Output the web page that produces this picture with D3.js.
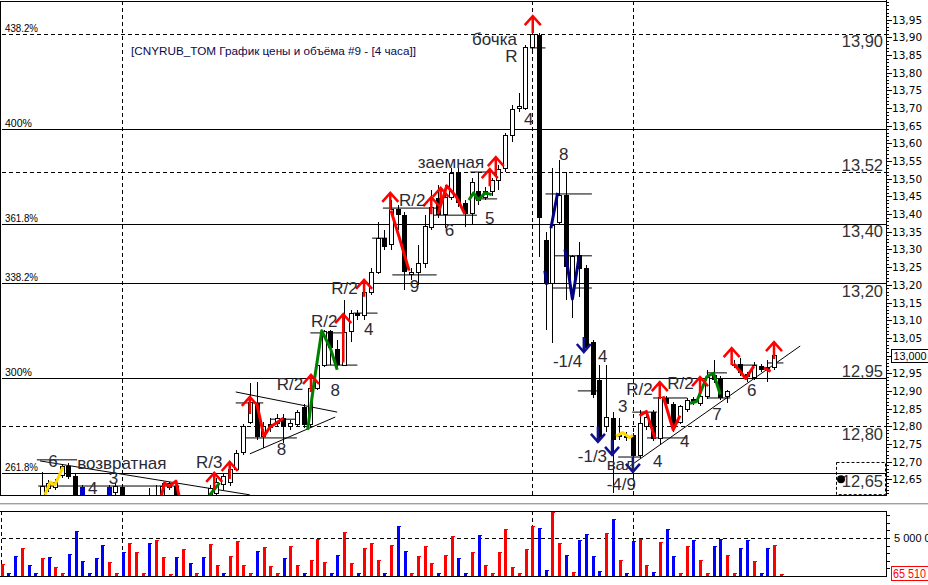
<!DOCTYPE html>
<html><head><meta charset="utf-8">
<script src="https://cdn.jsdelivr.net/npm/d3@7"></script>
<style>body{margin:0;background:#fff;}svg{display:block;}</style>
</head><body>
<svg id="c" width="928" height="585"></svg>
<script>
// ---------- DATA ----------
const opens  = [12.57,12.56,12.57,12.58,12.57,12.58,12.59,12.600,12.623,12.628,12.662,12.688,12.659,12.628,12.595,12.58,12.57,12.628,12.614,12.628,12.597,12.58,12.59,12.598,12.60,12.600,12.628,12.631,12.597,12.585,12.59,12.595,12.603,12.611,12.634,12.642,12.679,12.727,12.812,12.866,12.770,12.806,12.809,12.823,12.798,12.806,12.855,12.804,12.908,12.973,13.069,13.019,12.973,13.067,13.120,13.112,13.177,13.236,13.332,13.313,13.414,13.398,13.228,13.236,13.259,13.361,13.446,13.400,13.448,13.519,13.431,13.403,13.465,13.448,13.463,13.494,13.528,13.621,13.700,13.700,13.870,13.907,13.327,13.205,13.375,13.454,13.180,13.284,13.248,13.038,12.931,12.798,12.823,12.770,12.770,12.775,12.716,12.798,12.840,12.764,12.880,12.863,12.812,12.846,12.877,12.863,12.883,12.945,12.937,12.883,12.973,12.976,12.948,12.939,12.971,12.962,12.965];
const highs  = [12.58,12.58,12.59,12.59,12.59,12.595,12.60,12.671,12.648,12.651,12.693,12.696,12.665,12.634,12.60,12.595,12.59,12.634,12.640,12.634,12.60,12.60,12.60,12.625,12.634,12.640,12.642,12.640,12.60,12.60,12.60,12.605,12.634,12.654,12.665,12.688,12.733,12.806,12.922,12.925,12.812,12.823,12.835,12.835,12.818,12.846,12.863,12.914,12.982,13.072,13.072,13.044,13.157,13.129,13.129,13.185,13.248,13.378,13.355,13.440,13.426,13.406,13.248,13.313,13.398,13.468,13.482,13.482,13.530,13.530,13.440,13.502,13.519,13.477,13.502,13.539,13.629,13.709,13.743,13.878,13.921,13.912,13.349,13.530,13.553,13.519,13.284,13.321,13.256,13.044,12.973,12.973,12.840,12.823,12.784,12.781,12.846,12.838,12.846,12.925,12.886,12.869,12.860,12.880,12.883,12.888,12.959,12.987,12.942,12.903,12.987,12.993,12.954,12.982,12.976,12.987,13.004];
const lows   = [12.55,12.55,12.56,12.56,12.56,12.57,12.57,12.592,12.614,12.620,12.654,12.651,12.563,12.592,12.57,12.56,12.56,12.600,12.606,12.592,12.57,12.57,12.575,12.59,12.59,12.59,12.62,12.59,12.575,12.57,12.575,12.58,12.59,12.603,12.620,12.631,12.674,12.719,12.806,12.761,12.739,12.784,12.801,12.753,12.790,12.798,12.795,12.795,12.903,12.968,12.973,12.968,12.971,13.038,13.101,13.101,13.171,13.231,13.299,13.299,13.355,13.185,13.214,13.200,13.248,13.355,13.389,13.361,13.440,13.420,13.364,13.369,13.426,13.440,13.451,13.468,13.519,13.604,13.689,13.694,13.858,13.279,13.072,13.036,13.369,13.157,13.106,13.166,13.016,12.880,12.761,12.784,12.611,12.761,12.758,12.657,12.710,12.790,12.758,12.747,12.852,12.784,12.806,12.840,12.860,12.857,12.877,12.922,12.874,12.866,12.965,12.942,12.925,12.931,12.954,12.925,12.959];
const closes = [12.56,12.57,12.58,12.57,12.58,12.59,12.595,12.631,12.637,12.642,12.685,12.657,12.577,12.600,12.58,12.57,12.585,12.606,12.631,12.597,12.58,12.59,12.595,12.60,12.603,12.631,12.637,12.597,12.585,12.59,12.595,12.60,12.625,12.640,12.657,12.679,12.724,12.798,12.866,12.770,12.798,12.795,12.823,12.798,12.809,12.838,12.804,12.908,12.971,13.069,13.021,12.973,13.064,13.118,13.112,13.177,13.236,13.330,13.307,13.414,13.398,13.236,13.236,13.259,13.364,13.420,13.398,13.446,13.516,13.431,13.400,13.488,13.437,13.465,13.494,13.525,13.621,13.697,13.703,13.870,13.907,13.389,13.205,13.369,13.454,13.250,13.279,13.245,13.021,12.888,12.770,12.826,12.761,12.773,12.771,12.716,12.809,12.826,12.764,12.880,12.863,12.798,12.855,12.872,12.866,12.883,12.937,12.931,12.880,12.897,12.971,12.951,12.939,12.971,12.959,12.965,13.000];
const blueCandles = [13,17];

const volumes = [1623,351,2588,3640,1404,351,2368,2500,1140,351,
2851,5877,1930,351,2368,4079,1798,351,3202,4298,
3114,351,4298,4693,2500,219,2500,3553,1667,351,
2500,4167,1447,351,2632,4605,1447,351,3246,3816,
1316,351,2368,3947,1404,351,2105,4868,1798,351,
2763,5789,1667,351,3684,4298,2105,351,4035,6579,
3246,351,2632,3947,1667,351,2763,5263,2325,
351,3158,5395,1447,351,3158,6184,1184,351,3553,
6535,6316,746,8421,4342,2719,482,4737,5526,2632,
658,5658,7500,2105,395,4561,4825,1447,526,4430,
6184,2632,395,3947,4737,2105,395,3947,4868,2763,
351,3684,4693,1974,395,3684,4079,65.51]; // thousands
const volColors = "rbbrbbrbrrbbbbbbrrbrrrbrrrbrbrbrrbrrrrbrrrbrrbrrrbbrrbrrrbrbbrrrrbrrbbrbrrrrrrrrbbrrbrbbbbrbrbbrrbrbbrrbrrbbrrbbrbbrr";

const yTickValues = d3.range(12.65, 13.951, 0.05);
const fibLevels = [438.2, 400, 361.8, 338.2, 300, 261.8];
const fibBase = 10.827, fibSpan = 0.7033;
const dashedLevels = [13.52, 12.80];
const separators = [1, 19, 80, 95];
const currentPrice = 13.000;
const lastVolumeText = "65 510";

const bigLabels = [["13,90",13.873],["13,52",13.522],["13,40",13.335],["13,20",13.166],["12,95",12.939],["12,80",12.761],["12,65",12.628]];

// annotations: [text, candle index (left), baseline price]
const notes = [["бочка",71.06,13.878],["R",76,13.830],["4",78.8,13.652],["заемная",63.0,13.530],["8",84,13.553],
["R/2",60.2,13.423],["6",67,13.338],["5",73,13.372],["9",61.8,13.180],["R/2",50.1,13.174],["4",55,13.058],
["R/2",47.1,13.081],["8",50,12.886],["R/2",42,12.903],["8",42,12.719],["6",8,12.685],["возвратная",12.3,12.679],
["4",13.9,12.608],["3",17,12.637],["R/3",30,12.682],["-1/4",83.1,12.968],["4",89.8,12.982],["-1/3",86.8,12.699],
["3",92.8,12.840],["R/2",94,12.888],["R/2",100.1,12.905],["вал",91.1,12.676],["-4/9",91.1,12.620],["4",98,12.685],
["4",102,12.741],["7",106.8,12.818],["6",112,12.886]];

// red up arrows [index, tip price, tail price or null]
const upArrows = [[80.1,13.960,null],[58.9,13.460,null],[65,13.448,null],[66.4,13.474,null],[74.6,13.561,null],[73.7,13.527,null],
[51.9,13.117,12.98],[55,13.214,null],[47.1,12.945,null],[38,12.883,null],[32.7,12.668,null],[35,12.699,null],
[99,12.925,null],[105,12.939,null],[109.7,13.021,null],[116,13.038,null]];
// blue down arrows [index, tip price]
const downArrows = [[87.7,13.010],[89.8,12.756],[91.9,12.719],[95,12.671]];

// indicator waves [color, points as [index, price]]
const waves = [
 ["#ff0000",[[39,12.866],[40.1,12.772],[41,12.798],[42,12.81],[43,12.823]]],
 ["#008000",[[46.6,12.79],[47.6,12.93],[48.7,13.07],[50,13.02],[51,12.96]]],
 ["#ff0000",[[59,13.41],[60.3,13.33],[61.7,13.24]]],
 ["#ff0000",[[66,13.40],[67.3,13.48],[68.7,13.45],[70,13.40]]],
 ["#008000",[[70.6,13.44],[71.3,13.46],[72,13.44],[73,13.46],[74,13.455]]],
 ["#000080",[[82.8,13.36],[83.8,13.46]]],
 ["#000080",[[84.9,13.30],[86,13.16],[87,13.28]]],
 ["#000080",[[81.9,13.24],[82.2,13.20]]],
 ["#ffd800",[[7.5,12.606],[8.3,12.642],[9,12.634],[10.2,12.685]]],
 ["#ffd800",[[92.5,12.772],[93.5,12.782],[94.5,12.768],[95,12.775]]],
 ["#ff0000",[[96,12.83],[97,12.842],[98.3,12.765]]],
 ["#ff0000",[[99.5,12.885],[101,12.79],[102,12.83]]],
 ["#008000",[[103.5,12.865],[104.5,12.87],[106,12.94],[107,12.95],[108,12.89]]],
 ["#ff0000",[[110,12.977],[111.8,12.935],[113,12.97]]],
 ["#ff0000",[[114.5,12.965],[115.5,12.955]]],
 ["#ff0000",[[24.8,12.60],[25.3,12.64],[26,12.63],[27,12.645],[27.5,12.60]]],
 ["#008000",[[32,12.605],[33.5,12.64]]]
];
// thin black drawing lines [i1,p1,i2,p2]
const drawLines = [[6.77,12.702,38,12.606],[35.9,12.897,51,12.840],[38,12.722,50.7,12.826],[94.6,12.688,119.9,13.027],
[6.5,12.631,27.5,12.631],[6.3,12.705,12.3,12.705],[35.9,12.866,40,12.866],[37.3,12.767,45,12.767],[41,12.82,45,12.82],
[47,13.064,51.9,13.064],[48.9,12.973,54,12.973],[53.4,13.120,57,13.120],[56.2,13.332,58.4,13.332],[57.8,13.417,66.3,13.417],
[59.2,13.228,65.8,13.228],[65.3,13.397,71.8,13.397],[70.8,13.519,73.4,13.519],[70.8,13.443,74.8,13.443],[79.7,13.870,82,13.870],
[82,13.457,88.9,13.457],[83.1,13.282,88.9,13.282],[83.1,13.191,88.9,13.191],[86.8,12.900,89.7,12.900],[92.8,12.713,96.1,12.713],
[94.9,12.840,98.6,12.840],[97.1,12.767,103.1,12.767],[98,12.880,103.1,12.880],[106,12.951,109,12.951],[106,12.880,109.5,12.880],
[109.8,12.973,113.5,12.973],[115.1,12.979,117.4,12.979]];

// ---------- LAYOUT ----------
const svg = d3.select("#c");
const M = {l:2, r:886, t:1, b:495};
const V = {t:511, b:576};
const x = d3.scaleLinear().domain([0,116]).range([-5.52,774]);
const y = d3.scaleLinear().domain([12.65,13.90]).range([479.3,37.3]);
const xV = d3.scaleLinear().domain([0,116]).range([1.7,780.7]);
const yV = d3.scaleLinear().domain([0,5000]).range([V.b,538]);
const fibPrice = L => fibBase + fibSpan*L/100;
const fmt = v => d3.format(".2f")(v).replace(".",",");

svg.append("rect").attr("width",928).attr("height",585).attr("fill","#fff");
svg.append("clipPath").attr("id","mc").append("rect").attr("x",M.l).attr("y",M.t).attr("width",M.r-M.l).attr("height",M.b-M.t);
const g = svg.append("g").attr("clip-path","url(#mc)");

// fib lines
g.selectAll(".fib").data(fibLevels).join("line")
 .attr("x1",M.l).attr("x2",M.r).attr("y1",d=>Math.round(y(fibPrice(d)))+0.5).attr("y2",d=>Math.round(y(fibPrice(d)))+0.5)
 .attr("stroke","#000").attr("stroke-width",1).attr("stroke-dasharray",d=>d===438.2?"4,3":null).attr("shape-rendering","crispEdges");
svg.selectAll(".fibt").data(fibLevels).join("text")
 .attr("x",5).attr("y",d=>Math.round(y(fibPrice(d)))-2).text(d=>d+"%")
 .attr("font-family","Liberation Sans, Arial").attr("font-size",10.5).attr("fill","#000")
 .attr("textLength",d=>String(d).length>3?33:27).attr("lengthAdjust","spacingAndGlyphs");
// dashed levels
g.selectAll(".dl").data(dashedLevels).join("line")
 .attr("x1",M.l).attr("x2",M.r).attr("y1",d=>Math.round(y(d))+0.5).attr("y2",d=>Math.round(y(d))+0.5)
 .attr("stroke","#000").attr("stroke-dasharray","4,3").attr("shape-rendering","crispEdges");
// vertical separators
g.selectAll(".vs").data(separators).join("line")
 .attr("x1",d=>Math.round(x(d))+0.5).attr("x2",d=>Math.round(x(d))+0.5).attr("y1",M.t).attr("y2",M.b)
 .attr("stroke","#000").attr("stroke-dasharray","4,3").attr("shape-rendering","crispEdges");

// title
svg.append("text").attr("x",131).attr("y",55).text("[CNYRUB_TOM График цены и объёма #9 - [4 часа]]")
 .attr("font-family","Liberation Sans, Arial").attr("font-size",11.5).attr("fill","#0a0a50")
 .attr("textLength",285).attr("lengthAdjust","spacingAndGlyphs");

// thin drawing lines
g.selectAll(".dr").data(drawLines).join("line")
 .attr("x1",d=>x(d[0])).attr("y1",d=>y(d[1])).attr("x2",d=>x(d[2])).attr("y2",d=>y(d[3]))
 .attr("stroke","#000").attr("stroke-width",1);

// candles
const idx = d3.range(opens.length);
g.selectAll(".wick").data(idx).join("line")
 .attr("x1",i=>Math.round(x(i))+0.5).attr("x2",i=>Math.round(x(i))+0.5)
 .attr("y1",i=>y(highs[i])).attr("y2",i=>y(lows[i])).attr("stroke","#000").attr("shape-rendering","crispEdges");
g.selectAll(".body").data(idx).join("rect")
 .attr("x",i=>Math.round(x(i))-2+ (closes[i]>=opens[i]?0.5:0)).attr("width",i=>closes[i]>=opens[i]?4:5)
 .attr("y",i=>y(Math.max(opens[i],closes[i])))
 .attr("height",i=>Math.max(1,Math.abs(y(opens[i])-y(closes[i]))))
 .attr("fill",i=>blueCandles.includes(i)?"#0000cc":(closes[i]>=opens[i]?"#fff":"#000"))
 .attr("stroke",i=>closes[i]>=opens[i]&&!blueCandles.includes(i)?"#000":"none").attr("stroke-width",1)
 .attr("shape-rendering","crispEdges");

// waves
const lineGen = d3.line().x(d=>x(d[0])).y(d=>y(d[1]));
g.selectAll(".wave").data(waves).join("path")
 .attr("d",d=>lineGen(d[1])).attr("fill","none").attr("stroke",d=>d[0]).attr("stroke-width",3).attr("stroke-linejoin","round");

// arrows
g.selectAll(".ua").data(upArrows).join("path")
 .attr("d",d=>{const cx=x(d[0]),ty=y(d[1]),by=d[2]===null?ty+17:y(d[2]);return `M${cx},${ty}V${by}M${cx-8},${ty+9}L${cx},${ty}L${cx+8},${ty+9}`;})
 .attr("fill","none").attr("stroke","#ff0000").attr("stroke-width",2.5);
g.selectAll(".da").data(downArrows).join("path")
 .attr("d",d=>{const cx=x(d[0]),by=y(d[1]);return `M${cx},${by}V${by-15}M${cx-7},${by-8}L${cx},${by}L${cx+7},${by-8}`;})
 .attr("fill","none").attr("stroke","#10108c").attr("stroke-width",2.5);

// annotations
g.selectAll(".note").data(notes).join("text")
 .attr("x",d=>x(d[1])).attr("y",d=>y(d[2])).text(d=>d[0])
 .attr("font-family","Liberation Sans, Arial").attr("font-size",17).attr("fill","#2a2a35");

// big right labels
g.selectAll(".bl").data(bigLabels).join("text")
 .attr("x",883).attr("y",d=>y(d[1])).attr("text-anchor","end").text(d=>d[0])
 .attr("font-family","Liberation Sans, Arial").attr("font-size",16.5).attr("fill","#333");

// dashed box + dot
g.append("rect").attr("x",836.5).attr("y",y(12.699)+0.5).attr("width",49).attr("height",y(12.608)-y(12.699))
 .attr("fill","none").attr("stroke","#000").attr("stroke-dasharray","3,2");
g.append("circle").attr("cx",841).attr("cy",y(12.65)).attr("r",4).attr("fill","#000");

// frame main
svg.append("line").attr("x1",0).attr("x2",M.r).attr("y1",1.5).attr("y2",1.5).attr("stroke","#000");
svg.append("line").attr("x1",0).attr("x2",M.r).attr("y1",495.5).attr("y2",495.5).attr("stroke","#000");
svg.append("line").attr("x1",0.5).attr("x2",0.5).attr("y1",1).attr("y2",496).attr("stroke","#000");
svg.append("line").attr("x1",M.r+0.5).attr("x2",M.r+0.5).attr("y1",0).attr("y2",496).attr("stroke","#000");

// right axis
const axisG = svg.append("g").attr("transform",`translate(${M.r},0)`);
const minor = d3.range(12.61,14.001,0.01);
axisG.selectAll(".mt").data(minor).join("line")
 .attr("x1",0).attr("x2",3).attr("y1",d=>Math.round(y(d))+0.5).attr("y2",d=>Math.round(y(d))+0.5).attr("stroke","#000").attr("shape-rendering","crispEdges");
axisG.selectAll(".Mt").data(yTickValues).join("line")
 .attr("x1",0).attr("x2",6).attr("y1",d=>Math.round(y(d))+0.5).attr("y2",d=>Math.round(y(d))+0.5).attr("stroke","#000").attr("shape-rendering","crispEdges");
axisG.selectAll(".tl").data(yTickValues.filter(v=>Math.abs(v-currentPrice)>0.03)).join("text")
 .attr("x",6).attr("y",d=>y(d)+4).text(d=>fmt(d))
 .attr("font-family","DejaVu Sans, Arial").attr("font-size",10.5).attr("fill","#000");
// current price box
const cpY = y(currentPrice);
axisG.append("rect").attr("x",5.5).attr("y",Math.round(cpY)-6.5).attr("width",41).attr("height",13).attr("fill","#fff").attr("stroke","#000");
axisG.append("text").attr("x",7.5).attr("y",cpY+4.5).text(d3.format(".3f")(currentPrice).replace(".",","))
 .attr("font-family","Liberation Sans, Arial").attr("font-size",11).attr("fill","#000")
 .attr("textLength",33).attr("lengthAdjust","spacingAndGlyphs");

// separator
svg.append("line").attr("x1",0).attr("x2",928).attr("y1",503.5).attr("y2",503.5).attr("stroke","#a0a0a0");
svg.append("line").attr("x1",0).attr("x2",928).attr("y1",504.5).attr("y2",504.5).attr("stroke","#d8d8d8");

// volume panel
svg.append("line").attr("x1",0).attr("x2",M.r).attr("y1",V.t+0.5).attr("y2",V.t+0.5).attr("stroke","#000");
svg.append("line").attr("x1",0).attr("x2",M.r).attr("y1",V.b+0.5).attr("y2",V.b+0.5).attr("stroke","#000");
svg.append("line").attr("x1",M.r+0.5).attr("x2",M.r+0.5).attr("y1",V.t).attr("y2",V.b+1).attr("stroke","#000");
svg.append("line").attr("x1",M.l).attr("x2",M.r).attr("y1",yV(5000)+0.5).attr("y2",yV(5000)+0.5).attr("stroke","#000").attr("stroke-dasharray","4,3");
svg.selectAll(".vvs").data(separators).join("line")
 .attr("x1",d=>Math.round(x(d))+0.5).attr("x2",d=>Math.round(x(d))+0.5).attr("y1",V.t).attr("y2",V.b)
 .attr("stroke","#000").attr("stroke-dasharray","4,3").attr("shape-rendering","crispEdges");
const vcol = c => c==="r"?"#ff0000":"#0000ff";
svg.selectAll(".vb").data(volumes).join("rect")
 .attr("x",(d,i)=>Math.round(xV(i))-1).attr("width",3)
 .attr("y",d=>Math.min(yV(d),V.b-2.5)).attr("height",d=>Math.max(V.b-yV(d),2.5))
 .attr("fill",(d,i)=>vcol(volColors[i])).attr("shape-rendering","crispEdges");
svg.selectAll(".vc").data(volumes).join("rect")
 .attr("x",(d,i)=>Math.round(xV(i))-1.5).attr("width",4)
 .attr("y",d=>Math.min(yV(d),V.b-2.5)).attr("height",1)
 .attr("fill",(d,i)=>vcol(volColors[i])).attr("shape-rendering","crispEdges");
// volume axis
const vt = d3.range(1000,8001,1000);
svg.selectAll(".vt").data(vt).join("line")
 .attr("x1",M.r).attr("x2",M.r+4).attr("y1",d=>Math.round(yV(d))+0.5).attr("y2",d=>Math.round(yV(d))+0.5).attr("stroke","#000");
svg.append("text").attr("x",M.r+8).attr("y",yV(5000)+4).text("5 000 0")
 .attr("font-family","Liberation Sans, Arial").attr("font-size",11).attr("fill","#000");
svg.append("rect").attr("x",891.5).attr("y",566.5).attr("width",40).attr("height",14).attr("fill","#fff").attr("stroke","#ff0000");
svg.append("text").attr("x",893).attr("y",578).text(lastVolumeText)
 .attr("font-family","Liberation Sans, Arial").attr("font-size",13).attr("fill","#ff0000")
 .attr("textLength",33).attr("lengthAdjust","spacingAndGlyphs");
</script>
</body></html>
